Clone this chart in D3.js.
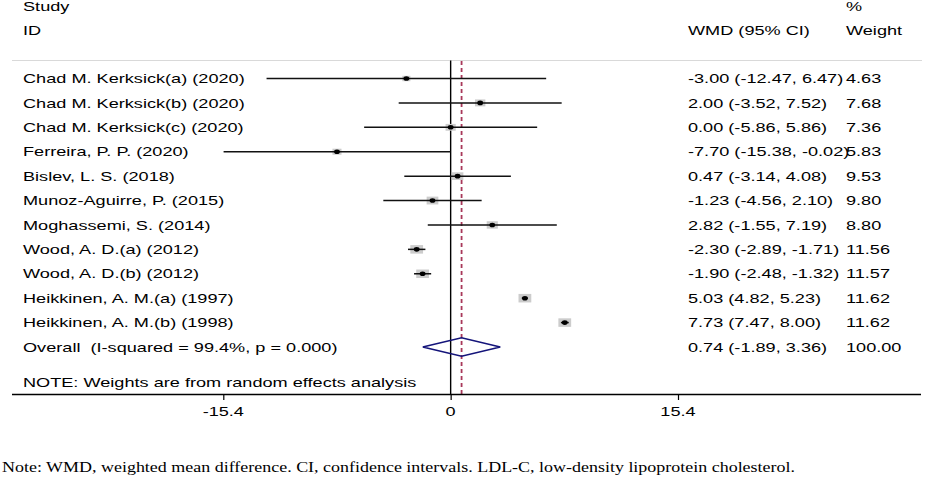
<!DOCTYPE html>
<html>
<head>
<meta charset="utf-8">
<script src="https://cdn.jsdelivr.net/npm/d3@7"></script>
<style>
  html, body { margin: 0; padding: 0; background: #fff; }
  svg { display: block; }
  text { white-space: pre; }
</style>
</head>
<body>
<script>
// ---------- data ----------
const studies = [
  "Chad M. Kerksick(a) (2020)",
  "Chad M. Kerksick(b) (2020)",
  "Chad M. Kerksick(c) (2020)",
  "Ferreira, P. P. (2020)",
  "Bislev, L. S. (2018)",
  "Munoz-Aguirre, P. (2015)",
  "Moghassemi, S. (2014)",
  "Wood, A. D.(a) (2012)",
  "Wood, A. D.(b) (2012)",
  "Heikkinen, A. M.(a) (1997)",
  "Heikkinen, A. M.(b) (1998)"
];
const wmd     = [-3.00, 2.00, 0.00, -7.70, 0.47, -1.23, 2.82, -2.30, -1.90, 5.03, 7.73];
const lower   = [-12.47, -3.52, -5.86, -15.38, -3.14, -4.56, -1.55, -2.89, -2.48, 4.82, 7.47];
const upper   = [6.47, 7.52, 5.86, -0.02, 4.08, 2.10, 7.19, -1.71, -1.32, 5.23, 8.00];
const weights = [4.63, 7.68, 7.36, 5.83, 9.53, 9.80, 8.80, 11.56, 11.57, 11.62, 11.62];
const ciLabels = [
  "-3.00 (-12.47, 6.47)",
  "2.00 (-3.52, 7.52)",
  "0.00 (-5.86, 5.86)",
  "-7.70 (-15.38, -0.02)",
  "0.47 (-3.14, 4.08)",
  "-1.23 (-4.56, 2.10)",
  "2.82 (-1.55, 7.19)",
  "-2.30 (-2.89, -1.71)",
  "-1.90 (-2.48, -1.32)",
  "5.03 (4.82, 5.23)",
  "7.73 (7.47, 8.00)"
];
const weightLabels = ["4.63","7.68","7.36","5.83","9.53","9.80","8.80","11.56","11.57","11.62","11.62"];
const overallLabel = "Overall  (I-squared = 99.4%, p = 0.000)";
const overallEst = 0.74, overallLo = -1.89, overallHi = 3.36;
const overallCI = "0.74 (-1.89, 3.36)";
const overallWeight = "100.00";
const tickValues = [-15.4, 0, 15.4];
const tickLabels = ["-15.4", "0", "15.4"];
const noteText = "NOTE: Weights are from random effects analysis";
const footText = "Note: WMD, weighted mean difference. CI, confidence intervals. LDL-C, low-density lipoprotein cholesterol.";

// ---------- layout ----------
const W = 948, H = 480;
const svg = d3.select("body").append("svg").attr("width", W).attr("height", H);

const x = d3.scaleLinear().domain([-15.4, 15.4]).range([223.3, 678]);
const y = d3.scaleLinear().domain([0, 11]).range([78.5, 347.0]);

const FONT = "'Liberation Sans', Arial, Helvetica, sans-serif";
const FS = 12.6, SX = 1.44;
function label(g, tx, ty, str, anchor) {
  return g.append("text")
    .attr("transform", `translate(${tx},${ty}) scale(${SX},1)`)
    .attr("font-family", FONT)
    .attr("font-size", FS)
    .attr("fill", "#000")
    .attr("text-anchor", anchor || "start")
    .text(str);
}

const colStudy = 23, colCI = 688, colW = 846;

// headers
label(svg, colStudy, 10.5, "Study");
label(svg, colStudy, 35, "ID");
label(svg, colW, 10.5, "%");
label(svg, colCI, 35, "WMD (95% CI)");
label(svg, colW, 35, "Weight");

// top separator
svg.append("line").attr("x1", 12).attr("x2", 922).attr("y1", 60.5).attr("y2", 60.5)
  .attr("stroke", "#d9d9d9").attr("stroke-width", 1);

// zero line
svg.append("line").attr("x1", x(0)).attr("x2", x(0)).attr("y1", 60.5).attr("y2", 394.5)
  .attr("stroke", "#000").attr("stroke-width", 1.4);

// overall dashed line
svg.append("line").attr("x1", x(overallEst)).attr("x2", x(overallEst)).attr("y1", 61).attr("y2", 394.5)
  .attr("stroke", "#a8385a").attr("stroke-width", 1.8).attr("stroke-dasharray", "4,3");

const rows = studies.map((s, i) => ({ s, i, est: wmd[i], lo: lower[i], hi: upper[i], w: weights[i] }));

// boxes
const boxH = d => 2.5 * Math.sqrt(d.w);
const boxW = d => 1.5 * boxH(d);
svg.append("g").selectAll("rect").data(rows).join("rect")
  .attr("x", d => x(d.est) - boxW(d) / 2)
  .attr("y", d => y(d.i) - boxH(d) / 2)
  .attr("width", boxW).attr("height", boxH)
  .attr("fill", "#cccccc");

// CI lines
svg.append("g").selectAll("line").data(rows).join("line")
  .attr("x1", d => x(d.lo)).attr("x2", d => x(d.hi))
  .attr("y1", d => y(d.i)).attr("y2", d => y(d.i))
  .attr("stroke", "#111").attr("stroke-width", 1.5);

// point estimates
svg.append("g").selectAll("ellipse").data(rows).join("ellipse")
  .attr("cx", d => x(d.est)).attr("cy", d => y(d.i))
  .attr("rx", 2.9).attr("ry", 2.3).attr("fill", "#000");

// row texts
rows.forEach(d => {
  label(svg, colStudy, y(d.i) + 4.6, d.s);
  label(svg, colCI, y(d.i) + 4.6, ciLabels[d.i]);
  label(svg, colW, y(d.i) + 4.6, weightLabels[d.i]);
});

// overall
const yo = y(11);
label(svg, colStudy, yo + 4.6, overallLabel);
label(svg, colCI, yo + 4.6, overallCI);
label(svg, colW, yo + 4.6, overallWeight);
svg.append("path")
  .attr("d", d3.line()([[x(overallLo), yo], [x(overallEst), yo - 9.3], [x(overallHi), yo], [x(overallEst), yo + 9.3], [x(overallLo), yo]]))
  .attr("fill", "none").attr("stroke", "#14147a").attr("stroke-width", 1.6);

// NOTE
label(svg, colStudy, 387.3, noteText);

// axis
const axisY = 394.5;
svg.append("line").attr("x1", 12).attr("x2", 921).attr("y1", axisY).attr("y2", axisY)
  .attr("stroke", "#000").attr("stroke-width", 1.4);
const ax = svg.append("g").attr("transform", `translate(0,${axisY})`)
  .call(d3.axisBottom(x).tickValues(tickValues).tickSize(5.5).tickFormat((v, i) => tickLabels[i]));
ax.select(".domain").remove();
ax.selectAll(".tick line").attr("stroke", "#000").attr("stroke-width", 1.2);
ax.selectAll(".tick text").remove();
tickValues.forEach((v, i) => label(svg, x(v), 415.8, tickLabels[i], "middle"));

// footnote
svg.append("text")
  .attr("x", 2).attr("y", 472.3)
  .attr("font-family", "'Liberation Serif', 'Times New Roman', Times, serif")
  .attr("font-size", 15)
  .attr("fill", "#000")
  .attr("textLength", 793).attr("lengthAdjust", "spacingAndGlyphs")
  .text(footText);
</script>
</body>
</html>
